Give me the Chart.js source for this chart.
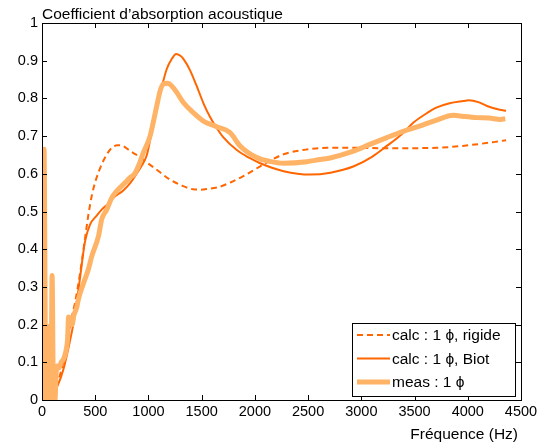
<!DOCTYPE html>
<html>
<head>
<meta charset="utf-8">
<script src="https://cdn.jsdelivr.net/npm/chart.js@4/dist/chart.umd.min.js"></script>
<style>
  html, body { margin: 0; padding: 0; background: #fff; }
</style>
</head>
<body>
<canvas id="chart" width="549" height="444"></canvas>
<script>
// calc, rigid frame
const freqRigide = [0, 50, 100, 150, 200, 250, 280, 310, 357, 400, 435, 470, 500, 550, 610, 660, 710, 760, 830, 900, 985, 1100, 1200, 1320, 1420, 1490, 1560, 1650, 1770, 1900, 2050, 2150, 2270, 2450, 2680, 2900, 3180, 3450, 3710, 3950, 4240, 4360];
const alphaRigide = [0, 0.005, 0.02, 0.05, 0.1, 0.17, 0.22, 0.258, 0.335, 0.42, 0.49, 0.545, 0.578, 0.618, 0.652, 0.67, 0.676, 0.674, 0.66, 0.648, 0.63, 0.606, 0.585, 0.568, 0.559, 0.558, 0.56, 0.564, 0.577, 0.595, 0.62, 0.636, 0.652, 0.663, 0.669, 0.669, 0.668, 0.668, 0.669, 0.674, 0.684, 0.689];

// calc, Biot
const freqBiot = [0, 50, 100, 150, 200, 250, 300, 326, 360, 404, 451, 514, 561, 620, 670, 764, 830, 900, 940, 985, 1020, 1062, 1095, 1125, 1172, 1220, 1260, 1300, 1330, 1390, 1450, 1520, 1580, 1640, 1700, 1830, 1950, 2050, 2270, 2520, 2710, 2930, 3100, 3240, 3380, 3490, 3600, 3710, 3830, 3960, 4010, 4100, 4180, 4300, 4360];
const alphaBiot = [0, 0.003, 0.015, 0.04, 0.08, 0.14, 0.21, 0.257, 0.33, 0.42, 0.465, 0.489, 0.505, 0.52, 0.536, 0.556, 0.576, 0.605, 0.623, 0.65, 0.695, 0.75, 0.795, 0.83, 0.878, 0.905, 0.918, 0.913, 0.904, 0.875, 0.835, 0.785, 0.75, 0.722, 0.698, 0.663, 0.642, 0.628, 0.607, 0.598, 0.603, 0.62, 0.645, 0.674, 0.705, 0.736, 0.758, 0.776, 0.787, 0.793, 0.795, 0.79, 0.78, 0.77, 0.767];

// measurement
const freqMeas = [2, 19, 36, 48, 60, 72, 84, 95, 108, 122, 132, 145, 160, 180, 205, 225, 240, 250, 265, 282, 300, 326, 341, 390, 435, 467, 530, 561, 608, 655, 702, 780, 827, 870, 905, 952, 1015, 1078, 1110, 1140, 1180, 1219, 1266, 1328, 1422, 1516, 1642, 1767, 1861, 2018, 2140, 2268, 2488, 2613, 2707, 2926, 3080, 3240, 3400, 3553, 3700, 3866, 3960, 4085, 4200, 4305, 4352];
const alphaMeas = [0, 0.665, 0, 0, 0.195, 0, 0, 0.33, 0, 0, 0.07, 0.09, 0.085, 0.1, 0.11, 0.13, 0.16, 0.22, 0.215, 0.2, 0.225, 0.245, 0.266, 0.31, 0.346, 0.381, 0.434, 0.479, 0.505, 0.536, 0.554, 0.576, 0.59, 0.6, 0.62, 0.656, 0.7, 0.78, 0.82, 0.838, 0.84, 0.833, 0.816, 0.789, 0.762, 0.74, 0.725, 0.709, 0.674, 0.643, 0.633, 0.628, 0.632, 0.638, 0.642, 0.66, 0.678, 0.696, 0.713, 0.727, 0.742, 0.755, 0.752, 0.749, 0.748, 0.744, 0.746];

const seriesLabels = ['calc : 1 \u03D5, rigide', 'calc : 1 \u03D5, Biot', 'meas : 1 \u03D5'];
const chartTitle = 'Coefficient d\u2019absorption acoustique';
const xTitle = 'Fr\u00e9quence (Hz)';

const toPoints = (xs, ys) => xs.map((x, i) => ({ x: x, y: ys[i] }));

const FONT = '"Liberation Sans", Arial, Helvetica, sans-serif';
Chart.defaults.font.family = FONT;
Chart.defaults.font.size = 14.5;
Chart.defaults.color = '#000';

// box, inward ticks on all sides, texts and legend (matlab look)
const matlabFrame = {
  id: 'matlabFrame',
  afterDraw(chart) {
    const ctx = chart.ctx;
    const { left, right, top, bottom } = chart.chartArea;
    const xs = chart.scales.x, ys = chart.scales.y;
    const tl = 5;
    ctx.save();
    ctx.strokeStyle = '#000';
    ctx.lineWidth = 1;
    ctx.beginPath();
    xs.ticks.forEach(t => {
      const px = Math.round(xs.getPixelForValue(t.value)) + 0.5;
      ctx.moveTo(px, bottom); ctx.lineTo(px, bottom - tl);
      ctx.moveTo(px, top); ctx.lineTo(px, top + tl);
    });
    ys.ticks.forEach(t => {
      const py = Math.round(ys.getPixelForValue(t.value)) + 0.5;
      ctx.moveTo(left, py); ctx.lineTo(left + tl, py);
      ctx.moveTo(right, py); ctx.lineTo(right - tl, py);
    });
    ctx.stroke();
    ctx.strokeRect(Math.round(left) + 0.5, Math.round(top) + 0.5, Math.round(right - left), Math.round(bottom - top));

    ctx.fillStyle = '#000';
    ctx.font = '15.5px ' + FONT;
    ctx.textBaseline = 'alphabetic';
    ctx.textAlign = 'left';
    ctx.fillText(chartTitle, left, top - 4);
    ctx.textAlign = 'right';
    ctx.fillText(xTitle, right - 3, bottom + 39);

    // legend
    const bx = right - 169, by = bottom - 77, bw = 163, bh = 73;
    ctx.fillStyle = '#fff';
    ctx.fillRect(bx, by, bw, bh);
    ctx.strokeStyle = '#000';
    ctx.strokeRect(bx + 0.5, by + 0.5, bw, bh);
    chart.data.datasets.forEach((ds, i) => {
      const cy = by + 12 + i * 23.5;
      ctx.save();
      ctx.strokeStyle = ds.borderColor;
      ctx.lineWidth = ds.borderWidth;
      ctx.setLineDash(ds.borderDash || []);
      ctx.lineCap = 'butt';
      ctx.beginPath();
      ctx.moveTo(bx + 5, cy);
      ctx.lineTo(bx + 38, cy);
      ctx.stroke();
      ctx.restore();
      ctx.fillStyle = '#000';
      ctx.textAlign = 'left';
      ctx.textBaseline = 'middle';
      ctx.fillText(ds.label, bx + 40, cy + 1);
    });
    ctx.restore();
  }
};

new Chart(document.getElementById('chart'), {
  type: 'line',
  data: {
    datasets: [
      {
        label: seriesLabels[0],
        data: toPoints(freqRigide, alphaRigide),
        borderColor: '#ff6600',
        borderWidth: 2,
        borderDash: [6, 4],
        order: 2
      },
      {
        label: seriesLabels[1],
        data: toPoints(freqBiot, alphaBiot),
        borderColor: '#ff6600',
        borderWidth: 2,
        order: 1
      },
      {
        label: seriesLabels[2],
        data: toPoints(freqMeas, alphaMeas),
        borderColor: '#ffb366',
        borderWidth: 5,
        borderJoinStyle: 'round',
        order: 0
      }
    ]
  },
  options: {
    responsive: false,
    animation: false,
    devicePixelRatio: 1,
    layout: { padding: { top: 23, right: 28, left: 0, bottom: 0 } },
    elements: {
      point: { radius: 0 },
      line: { fill: false, cubicInterpolationMode: 'monotone' }
    },
    plugins: {
      legend: { display: false },
      tooltip: { enabled: false },
      title: { display: false }
    },
    scales: {
      x: {
        type: 'linear',
        min: 0,
        max: 4500,
        border: { display: false },
        grid: { display: false, drawTicks: false },
        ticks: {
          stepSize: 500,
          autoSkip: false,
          maxRotation: 0,
          padding: 3,
          callback: v => String(v)
        },
        afterFit: s => { s.height = 44; }
      },
      y: {
        min: 0,
        max: 1,
        border: { display: false },
        grid: { display: false, drawTicks: false },
        ticks: {
          stepSize: 0.1,
          autoSkip: false,
          padding: 4,
          callback: v => String(Math.round(v * 10) / 10)
        },
        afterFit: s => { s.width = 42; }
      }
    }
  },
  plugins: [matlabFrame]
});
</script>
</body>
</html>
